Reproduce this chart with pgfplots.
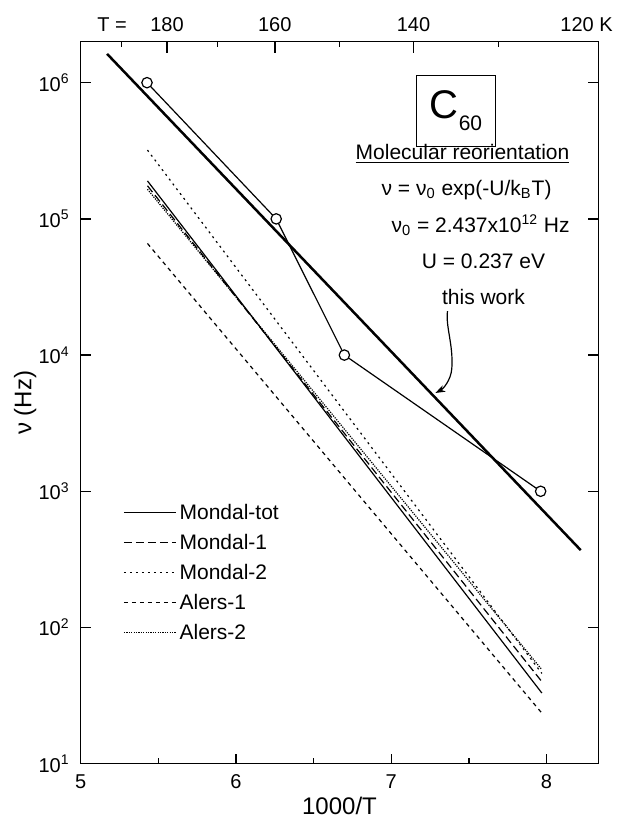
\documentclass[border=0pt]{standalone}
\usepackage{pgfplots}
\pgfplotsset{compat=1.18}
\usepackage{fontspec}
\setmainfont{Liberation Sans}
\usetikzlibrary{arrows.meta}
\begin{document}
\begin{tikzpicture}
\useasboundingbox (-40.35pt,-29.65pt) rectangle (271.15pt,381.85pt);
\begin{axis}[
  scale only axis, width=258.8pt, height=361pt,
  xmin=5, xmax=8.33333, ymin=10, ymax=2e6, ymode=log,
  clip=false,
  axis line style={line width=0.7pt},
  every tick/.style={black, line width=0.7pt},
  tick align=inside,
  major tick length=5pt, minor tick length=2.8pt,
  xtick={5,6,7,8}, minor xtick={5.5,6.5,7.5}, xtick pos=bottom,
  ytick={10,100,1000,10000,100000,1000000},
  yticklabels={10\textsuperscript{1},10\textsuperscript{2},10\textsuperscript{3},10\textsuperscript{4},10\textsuperscript{5},10\textsuperscript{6}},
  yminorticks=false, ytick pos=both, yticklabel pos=left,
  ticklabel style={font=\fontsize{10}{12}\selectfont},
  xticklabel style={yshift=-2pt},
  yticklabel style={xshift=-2pt},
  /pgf/number format/assume math mode=true,
  xlabel={1000/T}, ylabel={ν (Hz)},
  label style={font=\fontsize{12}{14}\selectfont},
  xlabel style={at={(axis description cs:0.5,-0.0582)}, anchor=center},
  ylabel style={at={(axis description cs:-0.1074,0.5)}, anchor=center},
  legend style={draw=none, fill=none, inner sep=0pt, at={(0.0817,0.3632)}, anchor=north west,
    font=\fontsize{10.5}{12}\selectfont, row sep=4.5pt,
    nodes={inner sep=1.5pt, text height=7.5pt, text depth=0pt}},
  legend cell align=left,
  legend image code/.code={\draw[#1] (0pt,0pt) -- (26pt,0pt);},
]
% literature curves
\addplot[black, line width=0.6pt] coordinates {(5.43,1.9e5) (7.97,33)};
\addlegendentry{Mondal-tot}
\addplot[black, line width=0.6pt, dash pattern=on 4pt off 2pt] coordinates {(5.43,1.75e5) (7.97,40)};
\addlegendentry{Mondal-1}
\addplot[black, line width=0.6pt, dash pattern=on 1pt off 2pt] coordinates {(5.43,3.2e5) (7.97,46)};
\addlegendentry{Mondal-2}
\addplot[black, line width=0.6pt, dash pattern=on 2pt off 2pt] coordinates {(5.43,6.6e4) (7.97,23.5)};
\addlegendentry{Alers-1}
\addplot[black, line width=0.6pt, dash pattern=on 0.6pt off 0.6pt] coordinates {(5.43,1.65e5) (7.97,49)};
\addlegendentry{Alers-2}
% this work fit
\addplot[black, line width=1.25pt, forget plot] coordinates {(5.17,1.627e6) (8.22,370)};
% data points
\addplot[black, line width=0.6pt, mark=*, mark size=2.6pt, mark options={fill=white, solid}, forget plot]
  coordinates {(5.427,1e6) (6.259,1e5) (6.698,1e4) (7.962,1e3)};
% top labels
\node[font=\fontsize{10}{12}\selectfont, anchor=center] at (axis cs:5.2025,2e6) [yshift=8.4pt] {T =};
\node[font=\fontsize{10}{12}\selectfont, anchor=center] at (axis cs:5.5556,2e6) [yshift=8.4pt] {180};
\node[font=\fontsize{10}{12}\selectfont, anchor=center] at (axis cs:6.25,2e6) [yshift=8.4pt] {160};
\node[font=\fontsize{10}{12}\selectfont, anchor=center] at (axis cs:7.1429,2e6) [yshift=8.4pt] {140};
\node[font=\fontsize{10}{12}\selectfont, anchor=center] at (axis cs:8.258,2e6) [yshift=8.4pt] {120 K};
% C60 box
\node[draw, line width=0.6pt, minimum width=39.5pt, minimum height=35.5pt, inner sep=0pt] at (axis cs:7.417,6.2e5)
  {\fontsize{20}{21}\selectfont C\raisebox{-6pt}{\fontsize{10.5}{12}\selectfont 60}};
% annotation
\node[font=\fontsize{10.5}{12}\selectfont] at (axis cs:7.459,2.98e5) {\underline{Molecular reorientation}};
\node[font=\fontsize{10.5}{12}\selectfont] at (axis cs:7.485,1.623e5) {ν = ν\textsubscript{0} exp(-U/k\textsubscript{B}T)};
\node[font=\fontsize{10.5}{12}\selectfont] at (axis cs:7.575,8.99e4) {ν\textsubscript{0} = 2.437x10\textsuperscript{\scriptsize 12} Hz};
\node[font=\fontsize{10.5}{12}\selectfont] at (axis cs:7.594,4.90e4) {U = 0.237 eV};
\node[font=\fontsize{10.5}{12}\selectfont] at (axis cs:7.594,2.67e4) {this work};
\draw[line width=0.6pt, -{Stealth[length=5pt,width=3.5pt]}] (axis cs:7.362,2.1e4) .. controls (axis cs:7.35,1.6e4) and (axis cs:7.40,1.2e4) .. (axis cs:7.39,8e3) .. controls (axis cs:7.385,6.5e3) and (axis cs:7.33,5.6e3) .. (axis cs:7.284,5.27e3);
\end{axis}
\begin{axis}[
  scale only axis, width=258.8pt, height=361pt,
  xmin=5, xmax=8.33333, ymin=10, ymax=2e6, ymode=log,
  axis x line*=top, axis y line=none,
  axis line style={line width=0.7pt},
  every tick/.style={black, line width=0.7pt},
  tick align=inside,
  major tick length=5.5pt, minor tick length=2.5pt,
  xtick={5.5556,6.25,7.1429}, minor xtick={5.2632,5.8824,6.6667,7.6923},
  xticklabels={},
]
\end{axis}
\end{tikzpicture}
\end{document}
